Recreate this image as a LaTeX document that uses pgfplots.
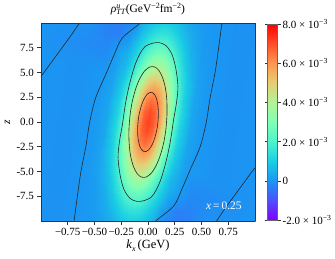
\documentclass[border=0pt]{standalone}
\usepackage{fontspec}
\setmainfont{Liberation Serif}
\usepackage{pgfplots}
\pgfplotsset{compat=1.18}
\newcommand{\scr}{\fontsize{8}{9}\selectfont}
\begin{document}
\begin{tikzpicture}
\pgfplotsset{contourline/.style={draw=black!85, line width=0.6pt, smooth, mark=none}}
\begin{axis}[
  at={(0,0)}, anchor=south west,
  view={0}{90},
  scale only axis, width=214pt, height=198pt,
  xmin=-1, xmax=1, ymin=-10, ymax=10,
  enlargelimits=false,
  axis on top, clip=true,
  axis line style={draw=black!80, line width=0.6pt},
  tick align=outside, major tick length=3.5pt,
  tick style={draw=black!80, line width=0.6pt},
  xtick pos=left, ytick pos=left, ztick=\empty,
  xtick={-0.75,-0.5,-0.25,0,0.25,0.5,0.75},
  xticklabels={−0.75,−0.50,−0.25,0.00,0.25,0.50,0.75},
  ytick={-7.5,-5,-2.5,0,2.5,5,7.5},
  yticklabels={-7.5,-5.0,-2.5,0.0,2.5,5.0,7.5},
  ticklabel style={font=\fontsize{11}{13}\selectfont},
  xticklabel style={inner xsep=0pt},
  xlabel={\textit{k}\raisebox{-2.5pt}{\scr\textit{x}}\,(GeV)},
  ylabel={\textit{z}},
  xlabel style={at={(axis description cs:0.5,-0.125)}, anchor=center, font=\fontsize{12.5}{14}\selectfont},
  ylabel style={at={(axis description cs:-0.157,0.5)}, anchor=center, font=\fontsize{11.5}{13}\selectfont},
  title={\textit{ρ}\rlap{\raisebox{4pt}{\scr\textit{u}}}\raisebox{-2.5pt}{\scr\textit{TT}}(GeV\raisebox{4pt}{\scr−2}fm\raisebox{4pt}{\scr−2})},
  title style={at={(axis description cs:0.5,1.025)}, anchor=base, inner sep=0pt, font=\fontsize{11.5}{13}\selectfont},
  colormap={mplrainbow}{rgb255=(128,0,255) rgb255=(77,79,252) rgb255=(26,150,243) rgb255=(26,206,227) rgb255=(77,243,206) rgb255=(128,255,180) rgb255=(179,243,150) rgb255=(230,206,116) rgb255=(255,150,79) rgb255=(255,79,40) rgb255=(255,0,0)},
  point meta min=-2, point meta max=8,
  colorbar,
  colorbar style={
    at={(parent axis.north east)}, anchor=north west, xshift=4pt, yshift=-1pt,
    width=10pt, height=196pt,
    ytick={-2,0,2,4,6,8},
    yticklabels={-2.0 × 10\textsuperscript{−3},0,2.0 × 10\textsuperscript{−3},4.0 × 10\textsuperscript{−3},6.0 × 10\textsuperscript{−3},8.0 × 10\textsuperscript{−3}},
    yticklabel style={font=\fontsize{11}{12}\selectfont, inner xsep=2pt},
    tick align=outside, major tick length=3pt,
    axis line style={draw=black!60, line width=0.4pt},
    tick style={draw=black!80, line width=0.5pt},
  },
]
\addplot3[surf, shader=interp, mesh/rows=21, mesh/cols=21, point meta=z] table {
x y f
-1.35 -10 0
-0.85 -10 -0.05
-0.65 -10 0.01
-0.55 -10 0.04
-0.45 -10 0.17
-0.4 -10 0.29
-0.35 -10 0.46
-0.3 -10 0.65
-0.25 -10 0.84
-0.2 -10 0.97
-0.15 -10 1.03
-0.1 -10 0.97
-0.05 -10 0.84
0 -10 0.65
0.05 -10 0.46
0.1 -10 0.0
0.15 -10 -0.2
0.25 -10 -0.35
0.35 -10 -0.3
0.55 -10 -0.05
1.05 -10 0
-1.335 -9 0
-0.835 -9 -0.05
-0.635 -9 0.01
-0.535 -9 0.06
-0.435 -9 0.25
-0.385 -9 0.43
-0.335 -9 0.67
-0.285 -9 0.95
-0.235 -9 1.21
-0.185 -9 1.41
-0.135 -9 1.48
-0.085 -9 1.41
-0.035 -9 1.21
0.015 -9 0.95
0.065 -9 0.67
0.115 -9 0.25
0.165 -9 0.0
0.265 -9 -0.3
0.365 -9 -0.3
0.565 -9 -0.1
1.065 -9 0
-1.32 -8 0
-0.82 -8 -0.05
-0.62 -8 0.01
-0.52 -8 0.08
-0.42 -8 0.34
-0.37 -8 0.59
-0.32 -8 0.93
-0.27 -8 1.32
-0.22 -8 1.69
-0.17 -8 1.97
-0.12 -8 2.07
-0.07 -8 1.97
-0.02 -8 1.69
0.03 -8 1.32
0.08 -8 0.93
0.13 -8 0.59
0.18 -8 0.2
0.28 -8 -0.05
0.38 -8 -0.2
0.58 -8 -0.15
1.08 -8 0
-1.305 -7 0
-0.805 -7 -0.05
-0.605 -7 0.02
-0.505 -7 0.11
-0.405 -7 0.46
-0.355 -7 0.79
-0.305 -7 1.24
-0.255 -7 1.77
-0.205 -7 2.27
-0.155 -7 2.63
-0.105 -7 2.77
-0.055 -7 2.63
-0.005 -7 2.27
0.045 -7 1.77
0.095 -7 1.24
0.145 -7 0.79
0.195 -7 0.46
0.295 -7 0.11
0.395 -7 -0.15
0.595 -7 -0.1
1.095 -7 0
-1.29 -6 0
-0.79 -6 -0.05
-0.59 -6 0.02
-0.49 -6 0.15
-0.39 -6 0.59
-0.34 -6 1.02
-0.29 -6 1.60
-0.24 -6 2.27
-0.19 -6 2.92
-0.14 -6 3.39
-0.09 -6 3.57
-0.04 -6 3.39
0.01 -6 2.92
0.06 -6 2.27
0.11 -6 1.60
0.16 -6 1.02
0.21 -6 0.59
0.31 -6 0.15
0.41 -6 -0.05
0.61 -6 -0.05
1.11 -6 0
-1.275 -5 0
-0.775 -5 -0.05
-0.575 -5 0.03
-0.475 -5 0.18
-0.375 -5 0.73
-0.325 -5 1.27
-0.275 -5 1.99
-0.225 -5 2.82
-0.175 -5 3.62
-0.125 -5 4.21
-0.075 -5 4.42
-0.025 -5 4.21
0.025 -5 3.62
0.075 -5 2.82
0.125 -5 1.99
0.175 -5 1.27
0.225 -5 0.73
0.325 -5 0.18
0.425 -5 0.03
0.625 -5 -0.05
1.125 -5 0
-1.26 -4 0
-0.76 -4 -0.05
-0.56 -4 0.04
-0.46 -4 0.22
-0.36 -4 0.87
-0.31 -4 1.51
-0.26 -4 2.37
-0.21 -4 3.36
-0.16 -4 4.32
-0.11 -4 5.01
-0.06 -4 5.27
-0.01 -4 5.01
0.04 -4 4.32
0.09 -4 3.36
0.14 -4 2.37
0.19 -4 1.51
0.24 -4 0.87
0.34 -4 0.22
0.44 -4 0.04
0.64 -4 -0.05
1.14 -4 0
-1.245 -3 0
-0.745 -3 -0.05
-0.545 -3 0.04
-0.445 -3 0.25
-0.345 -3 1.00
-0.295 -3 1.73
-0.245 -3 2.71
-0.195 -3 3.85
-0.145 -3 4.95
-0.095 -3 5.75
-0.045 -3 6.04
0.005 -3 5.75
0.055 -3 4.95
0.105 -3 3.85
0.155 -3 2.71
0.205 -3 1.73
0.255 -3 1.00
0.355 -3 0.25
0.455 -3 0.04
0.655 -3 -0.05
1.155 -3 0
-1.23 -2 0
-0.73 -2 -0.05
-0.53 -2 0.04
-0.43 -2 0.27
-0.33 -2 1.10
-0.28 -2 1.91
-0.23 -2 2.99
-0.18 -2 4.25
-0.13 -2 5.45
-0.08 -2 6.34
-0.03 -2 6.66
0.02 -2 6.34
0.07 -2 5.45
0.12 -2 4.25
0.17 -2 2.99
0.22 -2 1.91
0.27 -2 1.10
0.37 -2 0.27
0.47 -2 0.04
0.67 -2 -0.05
1.17 -2 0
-1.215 -1 0
-0.715 -1 -0.05
-0.515 -1 0.05
-0.415 -1 0.29
-0.315 -1 1.17
-0.265 -1 2.02
-0.215 -1 3.17
-0.165 -1 4.50
-0.115 -1 5.78
-0.065 -1 6.72
-0.015 -1 7.06
0.035 -1 6.72
0.085 -1 5.78
0.135 -1 4.50
0.185 -1 3.17
0.235 -1 2.02
0.285 -1 1.17
0.385 -1 0.29
0.485 -1 0.05
0.685 -1 -0.05
1.185 -1 0
-1.2 0 0
-0.7 0 -0.05
-0.5 0 0.05
-0.4 0 0.29
-0.3 0 1.19
-0.25 0 2.06
-0.2 0 3.23
-0.15 0 4.59
-0.1 0 5.89
-0.05 0 6.85
0 0 7.2
0.05 0 6.85
0.1 0 5.89
0.15 0 4.59
0.2 0 3.23
0.25 0 2.06
0.3 0 1.19
0.4 0 0.29
0.5 0 0.05
0.7 0 -0.05
1.2 0 0
-1.185 1 0
-0.685 1 -0.05
-0.485 1 0.05
-0.385 1 0.29
-0.285 1 1.17
-0.235 1 2.02
-0.185 1 3.17
-0.135 1 4.50
-0.085 1 5.78
-0.035 1 6.72
0.015 1 7.06
0.065 1 6.72
0.115 1 5.78
0.165 1 4.50
0.215 1 3.17
0.265 1 2.02
0.315 1 1.17
0.415 1 0.29
0.515 1 0.05
0.715 1 -0.05
1.215 1 0
-1.17 2 0
-0.67 2 -0.05
-0.47 2 0.04
-0.37 2 0.27
-0.27 2 1.10
-0.22 2 1.91
-0.17 2 2.99
-0.12 2 4.25
-0.07 2 5.45
-0.02 2 6.34
0.03 2 6.66
0.08 2 6.34
0.13 2 5.45
0.18 2 4.25
0.23 2 2.99
0.28 2 1.91
0.33 2 1.10
0.43 2 0.27
0.53 2 0.04
0.73 2 -0.05
1.23 2 0
-1.155 3 0
-0.655 3 -0.05
-0.455 3 0.04
-0.355 3 0.25
-0.255 3 1.00
-0.205 3 1.73
-0.155 3 2.71
-0.105 3 3.85
-0.055 3 4.95
-0.005 3 5.75
0.045 3 6.04
0.095 3 5.75
0.145 3 4.95
0.195 3 3.85
0.245 3 2.71
0.295 3 1.73
0.345 3 1.00
0.445 3 0.25
0.545 3 0.04
0.745 3 -0.05
1.245 3 0
-1.14 4 0
-0.64 4 -0.05
-0.44 4 0.04
-0.34 4 0.22
-0.24 4 0.87
-0.19 4 1.51
-0.14 4 2.37
-0.09 4 3.36
-0.04 4 4.32
0.01 4 5.01
0.06 4 5.27
0.11 4 5.01
0.16 4 4.32
0.21 4 3.36
0.26 4 2.37
0.31 4 1.51
0.36 4 0.87
0.46 4 0.22
0.56 4 0.04
0.76 4 -0.05
1.26 4 0
-1.125 5 0
-0.625 5 -0.05
-0.425 5 0.03
-0.325 5 0.18
-0.225 5 0.73
-0.175 5 1.27
-0.125 5 1.99
-0.075 5 2.82
-0.025 5 3.62
0.025 5 4.21
0.075 5 4.42
0.125 5 4.21
0.175 5 3.62
0.225 5 2.82
0.275 5 1.99
0.325 5 1.27
0.375 5 0.73
0.475 5 0.18
0.575 5 0.03
0.775 5 -0.05
1.275 5 0
-1.11 6 0
-0.61 6 -0.05
-0.41 6 -0.05
-0.31 6 0.15
-0.21 6 0.59
-0.16 6 1.02
-0.11 6 1.60
-0.06 6 2.27
-0.01 6 2.92
0.04 6 3.39
0.09 6 3.57
0.14 6 3.39
0.19 6 2.92
0.24 6 2.27
0.29 6 1.60
0.34 6 1.02
0.39 6 0.59
0.49 6 0.15
0.59 6 0.02
0.79 6 -0.05
1.29 6 0
-1.095 7 0
-0.595 7 -0.1
-0.395 7 -0.15
-0.295 7 0.11
-0.195 7 0.46
-0.145 7 0.79
-0.095 7 1.24
-0.045 7 1.77
0.005 7 2.27
0.055 7 2.63
0.105 7 2.77
0.155 7 2.63
0.205 7 2.27
0.255 7 1.77
0.305 7 1.24
0.355 7 0.79
0.405 7 0.46
0.505 7 0.11
0.605 7 0.02
0.805 7 -0.05
1.305 7 0
-1.08 8 0
-0.58 8 -0.15
-0.38 8 -0.2
-0.28 8 -0.05
-0.18 8 0.2
-0.13 8 0.59
-0.08 8 0.93
-0.03 8 1.32
0.02 8 1.69
0.07 8 1.97
0.12 8 2.07
0.17 8 1.97
0.22 8 1.69
0.27 8 1.32
0.32 8 0.93
0.37 8 0.59
0.42 8 0.34
0.52 8 0.08
0.62 8 0.01
0.82 8 -0.05
1.32 8 0
-1.065 9 0
-0.565 9 -0.1
-0.365 9 -0.3
-0.265 9 -0.3
-0.165 9 0.0
-0.115 9 0.25
-0.065 9 0.67
-0.015 9 0.95
0.035 9 1.21
0.085 9 1.41
0.135 9 1.48
0.185 9 1.41
0.235 9 1.21
0.285 9 0.95
0.335 9 0.67
0.385 9 0.43
0.435 9 0.25
0.535 9 0.06
0.635 9 0.01
0.835 9 -0.05
1.335 9 0
-1.05 10 0
-0.55 10 -0.05
-0.35 10 -0.3
-0.25 10 -0.35
-0.15 10 -0.2
-0.1 10 0.0
-0.05 10 0.46
0 10 0.65
0.05 10 0.84
0.1 10 0.97
0.15 10 1.03
0.2 10 0.97
0.25 10 0.84
0.3 10 0.65
0.35 10 0.46
0.4 10 0.29
0.45 10 0.17
0.55 10 0.04
0.65 10 0.01
0.85 10 -0.05
1.35 10 0
};
% contour at 6e-3
\addplot3[contourline] table {
x y z
0.095 0.25 0
0.097 1.015 0
0.092 1.712 0
0.081 2.291 0
0.065 2.714 0
0.044 2.953 0
0.02 2.99 0
-0.005 2.823 0
-0.03 2.464 0
-0.053 1.937 0
-0.072 1.279 0
-0.087 0.532 0
-0.095 -0.25 0
-0.097 -1.015 0
-0.092 -1.712 0
-0.081 -2.291 0
-0.065 -2.714 0
-0.044 -2.953 0
-0.02 -2.99 0
0.005 -2.823 0
0.03 -2.464 0
0.053 -1.937 0
0.072 -1.279 0
0.087 -0.532 0
0.095 0.25 0
};
% contour at 4e-3
\addplot3[contourline] table {
x y z
0.178 0.8 0
0.176 2.209 0
0.162 3.468 0
0.136 4.49 0
0.102 5.206 0
0.061 5.568 0
0.015 5.55 0
-0.032 5.154 0
-0.076 4.406 0
-0.115 3.358 0
-0.147 2.082 0
-0.168 0.663 0
-0.178 -0.8 0
-0.176 -2.209 0
-0.162 -3.468 0
-0.136 -4.49 0
-0.102 -5.206 0
-0.061 -5.568 0
-0.015 -5.55 0
0.032 -5.154 0
0.076 -4.406 0
0.115 -3.358 0
0.147 -2.082 0
0.168 -0.663 0
0.178 0.8 0
};
% contour at 2e-3
\addplot3[contourline] table {
x y z
0.239 0.25 0
0.267 2.0 0
0.28 3.6 0
0.26 5.4 0
0.225 6.8 0
0.17 7.7 0
0.105 8.02 0
0.04 7.95 0
-0.03 7.6 0
-0.075 6.9 0
-0.116 5.92 0
-0.15 4.75 0
-0.178 3.58 0
-0.205 2.2 0
-0.224 0.92 0
-0.239 -0.25 0
-0.267 -2.0 0
-0.28 -3.6 0
-0.26 -5.4 0
-0.225 -6.8 0
-0.17 -7.7 0
-0.105 -8.02 0
-0.04 -7.95 0
0.03 -7.6 0
0.075 -6.9 0
0.116 -5.92 0
0.15 -4.75 0
0.178 -3.58 0
0.205 -2.2 0
0.224 -0.92 0
0.239 0.25 0
};
% zero contour, left branch
\addplot3[contourline] table {
x y z
-0.04 10.3 0
-0.088 9.85 0
-0.243 8.45 0
-0.32 6.7 0
-0.396 4.78 0
-0.489 2.45 0
-0.545 0 0
-0.58 -2.42 0
-0.628 -5.08 0
-0.659 -7.42 0
-0.69 -9.92 0
-0.695 -10.3 0
};
% zero contour, right branch
\addplot3[contourline] table {
x y z
0.04 -10.3 0
0.088 -9.85 0
0.243 -8.45 0
0.32 -6.7 0
0.396 -4.78 0
0.489 -2.45 0
0.545 0 0
0.58 2.42 0
0.628 5.08 0
0.659 7.42 0
0.69 9.92 0
0.695 10.3 0
};
% zero contour, top-left corner
\addplot3[contourline] table {
x y z
-1.03 4.3 0
-0.983 4.85 0
-0.906 5.985 0
-0.829 7.12 0
-0.706 8.95 0
-0.644 9.95 0
-0.62 10.3 0
};
% zero contour, bottom-right corner
\addplot3[contourline] table {
x y z
1.03 -4.3 0
0.983 -4.85 0
0.906 -5.985 0
0.829 -7.12 0
0.706 -8.95 0
0.644 -9.95 0
0.62 -10.3 0
};
\node[text=white, anchor=base west, font=\fontsize{11.5}{13}\selectfont, inner sep=0pt] at (axis description cs:0.771,0.056) {\textit{x}\,=\,0.25};
\end{axis}
\pgfresetboundingbox
\path[use as bounding box] (-41pt,-37pt) rectangle (294pt,221pt);
\end{tikzpicture}
\end{document}
